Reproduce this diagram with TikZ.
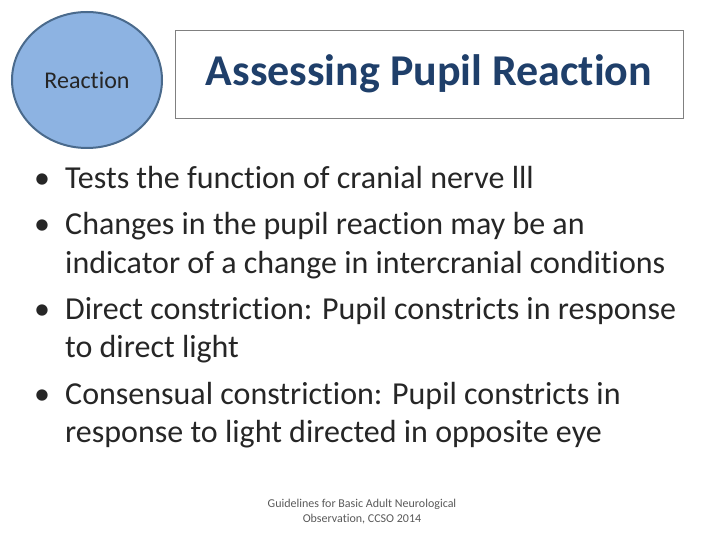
\documentclass[tikz,border=0pt]{standalone}
\usepackage{fontspec}
\usetikzlibrary{shapes.geometric}
\setmainfont[Ligatures=NoCommon]{Carlito}
\definecolor{cfill}{HTML}{8DB3E2}
\definecolor{cline}{HTML}{4A6A8C}
\definecolor{ttl}{HTML}{1F3F6A}
\begin{document}
\begin{tikzpicture}[x=1pt,y=-1pt,
  txt/.style={anchor=base west,inner sep=0pt,font=\fontsize{32}{36}\selectfont,text=black!85},
  bul/.style={anchor=base west,inner sep=0pt,font=\fontsize{32}{36}\selectfont,text=black!85}]
\useasboundingbox (0,0) rectangle (720,540);
\node[ellipse,draw=cline,line width=2pt,fill=cfill,minimum width=150pt,minimum height=136pt,font=\fontsize{24}{28}\selectfont,text=black!85] (c) at (87,80) {Reaction};
\node[draw=black!50,line width=0.8pt,minimum width=508pt,minimum height=88pt] (t) at (429,74) {};
\node[font=\bfseries\fontsize{44}{48}\selectfont,text=ttl] (tt) at (429,74) {Assessing Pupil Reaction};
\node[bul] (b1) at (34,189) {•};
\node[txt] (l1) at (65,189) {Tests the function of cranial nerve lll};
\node[bul] (b2) at (34,235) {•};
\node[txt] (l2) at (65,235) {Changes in the pupil reaction may be an};
\node[txt] (l3) at (65,273) {indicator of a change in intercranial conditions};
\node[bul] (b3) at (34,319) {•};
\node[txt] (l4) at (65,319) {Direct constriction: Pupil constricts in response};
\node[txt] (l5) at (65,357) {to direct light};
\node[bul] (b4) at (34,404) {•};
\node[txt] (l6) at (65,404) {Consensual constriction: Pupil constricts in};
\node[txt] (l7) at (65,442) {response to light directed in opposite eye};
\node[align=center,font=\fontsize{12}{15}\selectfont,text=black!65] (f) at (362,512) {Guidelines for Basic Adult Neurological\\Observation, CCSO 2014};
\end{tikzpicture}
\end{document}
